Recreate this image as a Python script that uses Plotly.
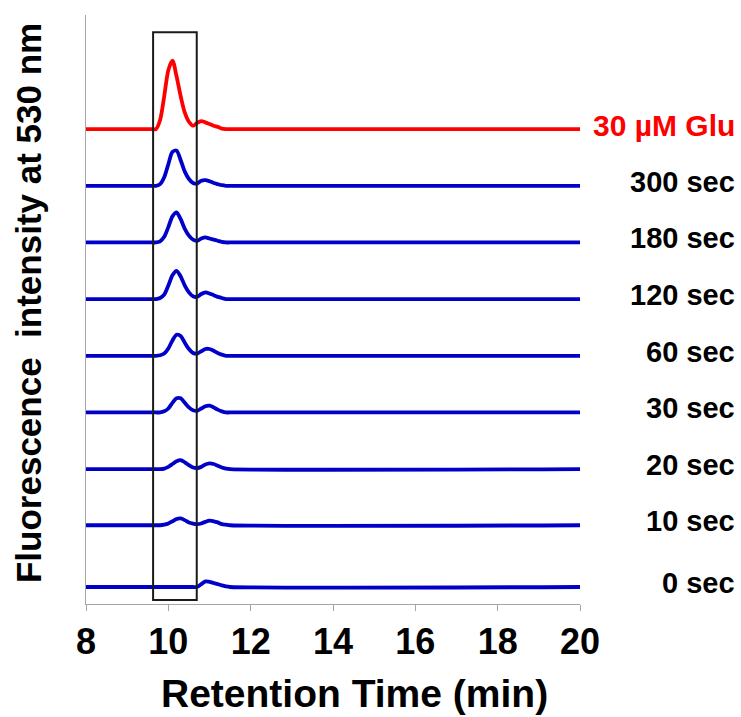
import plotly.graph_objects as go

# Retention-time grid (min) shared by all chromatograms
time_min = [8.0, 9.6, 9.7, 9.8, 9.9, 10.0, 10.1, 10.2, 10.3, 10.4, 10.5,
            10.6, 10.7, 10.8, 10.9, 11.0, 11.1, 11.2, 11.3, 11.4, 11.5, 20.0]

# Fluorescence signal above each trace's own baseline (a.u.)
sig_0s   = [0, 0, 0, 0, 0, 0, 0, 0, 0, 0, 0, 0, 0.00, 0.05, 0.10, 0.09, 0.07, 0.05, 0.03, 0.01, 0, 0]
sig_10s  = [0, 0, 0, 0, 0.01, 0.03, 0.07, 0.11, 0.12, 0.09, 0.05, 0.03, 0.02, 0.03, 0.06, 0.08, 0.07, 0.05, 0.02, 0.01, 0, 0]
sig_20s  = [0, 0, 0, 0, 0.01, 0.04, 0.09, 0.14, 0.16, 0.12, 0.07, 0.03, 0.02, 0.04, 0.08, 0.10, 0.09, 0.06, 0.03, 0.01, 0, 0]
sig_30s  = [0, 0, 0, 0, 0.02, 0.07, 0.17, 0.25, 0.25, 0.17, 0.09, 0.04, 0.03, 0.07, 0.11, 0.12, 0.09, 0.05, 0.02, 0, 0, 0]
sig_60s  = [0, 0, 0, 0.01, 0.04, 0.13, 0.27, 0.37, 0.35, 0.23, 0.12, 0.05, 0.04, 0.08, 0.12, 0.12, 0.09, 0.05, 0.02, 0, 0, 0]
sig_120s = [0, 0, 0, 0.02, 0.08, 0.24, 0.42, 0.50, 0.40, 0.24, 0.12, 0.05, 0.04, 0.09, 0.12, 0.10, 0.07, 0.04, 0.02, 0, 0, 0]
sig_180s = [0, 0, 0, 0.02, 0.10, 0.27, 0.46, 0.53, 0.41, 0.24, 0.12, 0.05, 0.03, 0.07, 0.09, 0.07, 0.05, 0.03, 0.01, 0, 0, 0]
sig_300s = [0, 0, 0, 0.03, 0.15, 0.38, 0.60, 0.62, 0.45, 0.25, 0.12, 0.05, 0.04, 0.09, 0.10, 0.08, 0.05, 0.03, 0.01, 0, 0, 0]
sig_glu  = [0, 0, 0, 0.16, 0.58, 1.04, 1.21, 0.93, 0.58, 0.29, 0.13, 0.06, 0.11, 0.14, 0.12, 0.09, 0.06, 0.04, 0.01, 0, 0, 0]

signals = [sig_0s, sig_10s, sig_20s, sig_30s, sig_60s, sig_120s, sig_180s, sig_300s, sig_glu]
labels = ["0 sec", "10 sec", "20 sec", "30 sec", "60 sec", "120 sec", "180 sec", "300 sec", "30 µM Glu"]
# Vertical stacking offsets for each chromatogram
offsets = [0.30, 1.39, 2.38, 3.38, 4.38, 5.38, 6.38, 7.38, 8.38]

# Integration window around the main product peak (min)
window = [9.63, 10.69]

BLUE = "#0000C8"
RED = "#FF0000"
FONT = "Liberation Sans, Arial, sans-serif"

fig = go.Figure()
for sig, off, lab in zip(signals, offsets, labels):
    color = RED if "Glu" in lab else BLUE
    fig.add_trace(go.Scatter(
        x=time_min, y=[v + off for v in sig], mode="lines",
        line=dict(color=color, width=3.8, shape="spline", smoothing=0.8),
        name=lab, showlegend=False, hoverinfo="skip"))

annotations = []
for off, lab in zip(offsets, labels):
    is_glu = "Glu" in lab
    annotations.append(dict(
        x=1.318, xref="paper", y=off, yref="y", yshift=4,
        text=lab, showarrow=False, xanchor="right", yanchor="middle",
        font=dict(family=FONT, size=30 if is_glu else 29, weight=700,
                  color=RED if is_glu else "black")))

annotations.append(dict(
    x=0, xref="paper", xshift=-58, y=0.511, yref="paper",
    text="Fluorescence  intensity at 530 nm", textangle=-90, showarrow=False,
    xanchor="center", yanchor="middle",
    font=dict(family=FONT, size=35, weight=700, color="black")))

annotations.append(dict(
    x=0.5445, xref="paper", y=0, yref="paper", yshift=-89,
    text="Retention Time (min)", showarrow=False,
    xanchor="center", yanchor="middle",
    font=dict(family=FONT, size=39, weight=700, color="black")))

fig.add_shape(type="rect", xref="x", yref="y",
              x0=window[0], x1=window[1], y0=0.07, y1=10.09,
              line=dict(color="#1a1a1a", width=2), fillcolor="rgba(0,0,0,0)")

fig.update_layout(
    width=741, height=717,
    margin=dict(l=86, r=161, t=15, b=113),
    paper_bgcolor="white", plot_bgcolor="white",
    annotations=annotations,
    xaxis=dict(range=[8, 20], tickvals=[8, 10, 12, 14, 16, 18, 20],
               showline=True, linecolor="#A6A6A6", linewidth=1.3,
               ticks="outside", ticklen=6, tickcolor="#A6A6A6", tickwidth=1.3,
               showgrid=False, zeroline=False,
               tickfont=dict(family=FONT, size=36, weight=700, color="black")),
    yaxis=dict(range=[0, 10.394], showline=True, linecolor="#A6A6A6", linewidth=1.3,
               showticklabels=False, ticks="", showgrid=False, zeroline=False),
)

fig.write_html("out.html")
